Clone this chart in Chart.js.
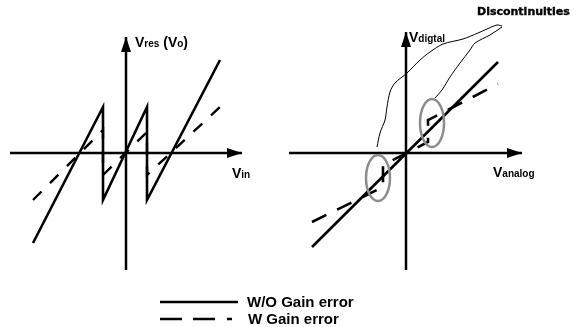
<!DOCTYPE html>
<html>
<head>
<meta charset="utf-8">
<script src="https://cdn.jsdelivr.net/npm/chart.js@4.4.1/dist/chart.umd.min.js"></script>
<style>
  html, body { margin:0; padding:0; background:#fff; }
  body { width:574px; height:327px; position:relative; overflow:hidden; font-family:"Liberation Sans", Arial, sans-serif; }
  canvas { position:absolute; left:0; top:0; }
  .lbl { position:absolute; font-weight:bold; color:#000; white-space:nowrap; line-height:14px; font-size:14px; }
  .lbl span { font-size:10px; }
  #disc { position:absolute; left:477px; top:5px; font-family:"DejaVu Sans", sans-serif; font-weight:bold; font-size:11px; line-height:14px; -webkit-text-stroke:0.4px #000; white-space:nowrap; }
  .leg { position:absolute; font-weight:bold; font-size:15px; line-height:16px; white-space:nowrap; }
  svg { position:absolute; left:0; top:0; }
</style>
</head>
<body>
<canvas id="left" width="574" height="327"></canvas>
<canvas id="right" width="574" height="327"></canvas>

<div class="lbl" style="left:135px; top:35px;">V<span>res</span> (V<span>o</span>)</div>
<div class="lbl" style="left:232px; top:166px;">V<span>in</span></div>
<div class="lbl" style="left:409px; top:30px;">V<span>digtal</span></div>
<div class="lbl" style="left:493px; top:165px;">V<span>analog</span></div>
<div id="disc">Discontinuities</div>

<svg width="574" height="327">
  <line x1="160" y1="302" x2="238" y2="302" stroke="#000" stroke-width="2.5"/>
  <line x1="160" y1="319" x2="232" y2="319" stroke="#000" stroke-width="2.5" stroke-dasharray="22,11,22,12,5,100"/>
</svg>
<div class="leg" style="left:247px; top:294px;">W/O Gain error</div>
<div class="leg" style="left:248px; top:311px;">W Gain error</div>

<script>
// ---- Left panel: residue transfer (units: offsets from origin) ----
const leftSolidX = [-93, -23, -23, 21, 21, 94];
const leftSolidY = [-90, 46, -47, 46, -47, 93];
const leftDashX  = [-93, -23, -23, 21, 21, 94];
const leftDashY  = [-47, 23, -22, 21, -22, 46];
const leftAxisH  = [-116, 116];
const leftAxisV  = [-117, 116];

// ---- Right panel: digital vs analog ----
const rightSolidX = [-94, 92];
const rightSolidY = [-94, 91];
const rightDashX  = [-94, -23, -23, 22, 22, 92];
const rightDashY  = [-69, -34, -12, 11, 33, 69];
const rightAxisH  = [-117, 116];
const rightAxisV  = [-117, 121];
// annotation leader curves
const curveAX = [96, 91, 81, 72, 57, 37, 24, 14, 1, -11, -16, -19, -21, -26, -29];
const curveAY = [127, 128, 124, 120, 114, 109, 101, 93, 80, 70, 61, 46, 33, 20, 6];
const curveBX = [96, 84, 69, 64, 54, 44, 36, 29];
const curveBY = [126, 118, 110, 103, 90, 76, 63, 55];
// circled discontinuities
const ellipseCX = [26, -28];
const ellipseCY = [30, -25];
const ellipseRX = [12, 12];
const ellipseRY = [24, 23];

function pts(xs, ys) { return xs.map((x, i) => ({ x: x, y: ys[i] })); }

const arrowPlugin = {
  id: 'arrows',
  afterDatasetsDraw(chart) {
    const ctx = chart.ctx;
    chart.data.datasets.forEach((ds, i) => {
      if (!ds.arrow) return;
      const m = chart.getDatasetMeta(i).data;
      const a = m[m.length - 2], b = m[m.length - 1];
      const ang = Math.atan2(b.y - a.y, b.x - a.x);
      const L = 15, W = 5;
      ctx.save();
      ctx.translate(b.x, b.y);
      ctx.rotate(ang);
      ctx.beginPath();
      ctx.moveTo(0, 0);
      ctx.lineTo(-L, -W);
      ctx.lineTo(-L, W);
      ctx.closePath();
      ctx.fillStyle = '#000';
      ctx.fill();
      ctx.restore();
    });
  }
};

const ellipsePlugin = {
  id: 'ellipses',
  afterDatasetsDraw(chart, args, opts) {
    if (!opts.show) return;
    const ctx = chart.ctx, xs = chart.scales.x, ys = chart.scales.y;
    ctx.save();
    ctx.strokeStyle = '#8c8c8c';
    ctx.lineWidth = 2.5;
    ellipseCX.forEach((cx, i) => {
      const px = xs.getPixelForValue(cx), py = ys.getPixelForValue(ellipseCY[i]);
      const rx = Math.abs(xs.getPixelForValue(cx + ellipseRX[i]) - px);
      const ry = Math.abs(ys.getPixelForValue(ellipseCY[i] + ellipseRY[i]) - py);
      ctx.beginPath();
      ctx.ellipse(px, py, rx, ry, 0, 0, Math.PI * 2);
      ctx.stroke();
    });
    ctx.restore();
  }
};

function line(xs, ys, extra) {
  return Object.assign({
    data: pts(xs, ys), showLine: true, borderColor: '#000', borderWidth: 2.6,
    pointRadius: 0, tension: 0, clip: false, fill: false
  }, extra || {});
}

function makeChart(id, ox, oy, datasets, showEll) {
  return new Chart(document.getElementById(id), {
    type: 'scatter',
    data: { datasets: datasets },
    options: {
      responsive: false, animation: false, events: [],
      layout: { padding: 0 },
      plugins: { legend: { display: false }, tooltip: { enabled: false }, ellipses: { show: showEll } },
      scales: {
        x: { type: 'linear', display: false, min: -ox, max: 574 - ox },
        y: { type: 'linear', display: false, min: -(327 - oy), max: oy }
      }
    },
    plugins: [arrowPlugin, ellipsePlugin]
  });
}

makeChart('left', 126, 153, [
  line(leftAxisH, [0, 0], { arrow: true, borderWidth: 2.5 }),
  line([0, 0], leftAxisV, { arrow: true, borderWidth: 2.5, data: [{x:0, y:leftAxisV[0]}, {x:0, y:leftAxisV[1]}] }),
  line(leftSolidX, leftSolidY),
  line(leftDashX, leftDashY, { borderDash: [12, 12], borderWidth: 2.4 })
], false);

makeChart('right', 406, 153, [
  line(rightAxisH, [0, 0], { arrow: true, borderWidth: 2.5 }),
  line([0, 0], rightAxisV, { arrow: true, borderWidth: 2.5 }),
  line(rightSolidX, rightSolidY),
  line(rightDashX, rightDashY, { borderDash: [16, 12], borderWidth: 2.6 }),
  line(curveAX, curveAY, { borderWidth: 1, tension: 0.3 }),
  line(curveBX, curveBY, { borderWidth: 1, tension: 0.3 })
], true);
</script>
</body>
</html>
